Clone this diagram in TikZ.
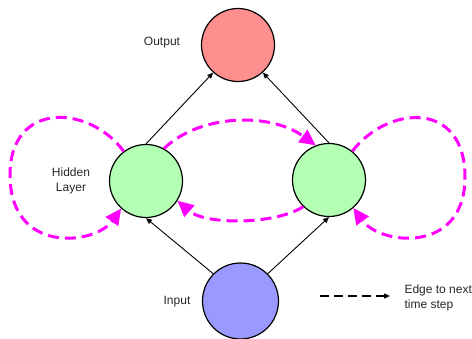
\documentclass[tikz,border=0pt]{standalone}
\usepackage{fontspec}
\setmainfont{Liberation Sans}
\usetikzlibrary{arrows.meta}
\definecolor{outfill}{RGB}{255,143,143}
\definecolor{hidfill}{RGB}{179,255,179}
\definecolor{infill}{RGB}{153,153,255}
\definecolor{loopcol}{RGB}{255,0,255}
\tikzset{
  neuron/.style={circle,draw=black,line width=1.2pt,inner sep=0pt,minimum size=73pt},
  lbl/.style={font=\fontsize{12}{15}\selectfont,align=center,text=black!85},
  conn/.style={draw=black,line width=0.9pt,-{Triangle[length=6pt,width=5pt]}},
  recur/.style={draw=loopcol,line width=3pt,dash pattern=on 11pt off 6pt,-{Triangle[length=16pt,width=15pt]}},
  legline/.style={draw=black,line width=1.3pt,dash pattern=on 9pt off 5pt,-{Triangle[length=6pt,width=5pt]}}
}
\begin{document}
\begin{tikzpicture}[x=1pt,y=-1pt]
\useasboundingbox (0,0) rectangle (472,339);
\node[neuron,fill=outfill] (out) at (238,45) {};
\node[neuron,fill=hidfill] (hl) at (146,181) {};
\node[neuron,fill=hidfill] (hr) at (329,180) {};
\node[neuron,fill=infill,minimum size=76pt] (in) at (240.5,301) {};
\node[lbl] (tout) at (162,43) {Output};
\node[lbl] (thid) at (71,181) {Hidden\\Layer};
\node[lbl] (tin) at (177,302) {Input};
\node[lbl,align=left,anchor=west] (tleg) at (401,298) {Edge to next\\time step};
\coordinate (la) at (320,296);
\coordinate (lb) at (390,296);
\draw[conn] (hl.north) -- (out.228);
\draw[conn] (hr.north) -- (out.312);
\draw[conn] (in.135) -- (hl.south);
\draw[conn] (in.45) -- (hr.south);
% recurrent edges
\draw[recur] (hl.61) .. controls (200,114) and (270,112) .. (hr.111);
\draw[recur] (hr.226) .. controls (275,225) and (205,225) .. (hl.328);
\draw[recur] (hl.127) .. controls (90,105) and (10,100) .. (10,175) .. controls (10,255) and (95,245) .. (hl.228);
\draw[recur] (hr.51) .. controls (388,105) and (465,100) .. (465,177) .. controls (465,255) and (380,245) .. (hr.311);
\draw[legline] (la) -- (lb);
\end{tikzpicture}
\end{document}
